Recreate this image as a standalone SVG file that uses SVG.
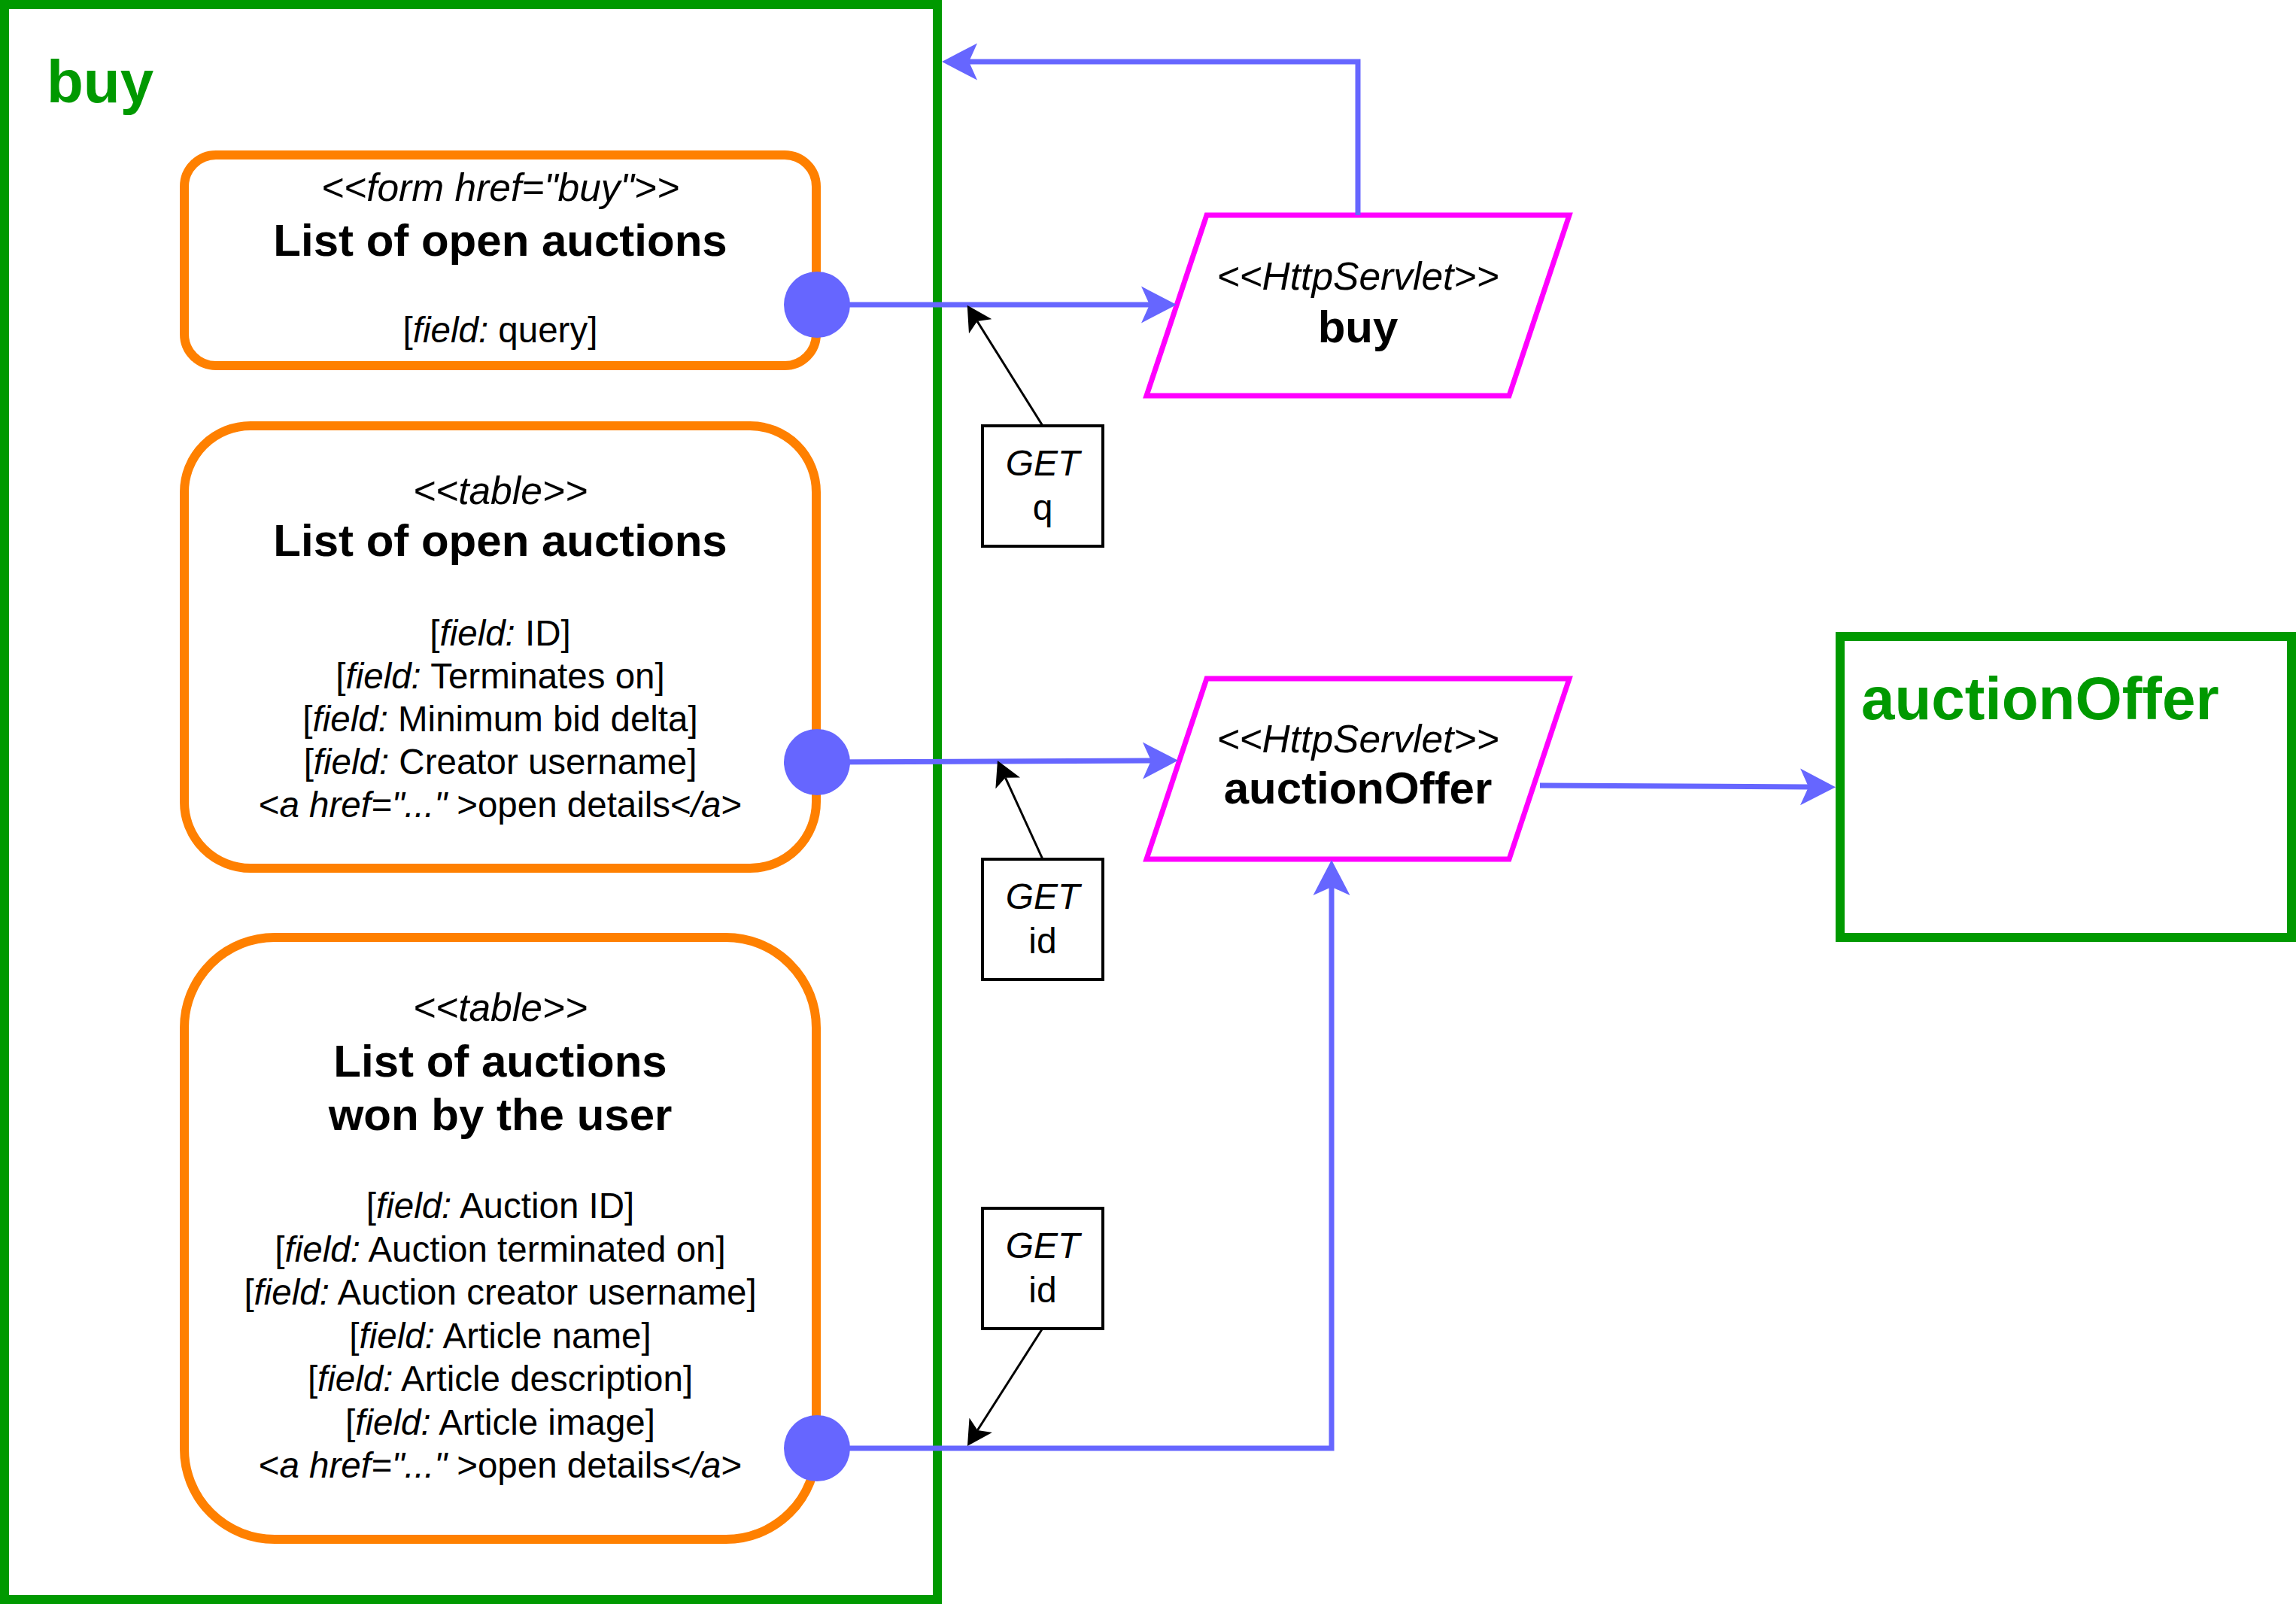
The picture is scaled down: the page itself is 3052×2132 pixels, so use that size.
<svg xmlns="http://www.w3.org/2000/svg" width="3052" height="2132" viewBox="0 0 3052 2132">
<style>
text{font-family:"Liberation Sans",Arial,Helvetica,sans-serif;fill:#000}
.frame{fill:none;stroke:#009900;stroke-width:12}
.box{fill:#fff;stroke:#FF8000;stroke-width:12}
.servlet{fill:#fff;stroke:#FF00FF;stroke-width:7}
.get{fill:#fff;stroke:#000;stroke-width:4}
.blue{fill:none;stroke:#6666FF;stroke-width:7}
.black{fill:none;stroke:#000;stroke-width:3}
.st{font-size:51.5px;font-style:italic;text-anchor:middle}
.ttl{font-size:60px;font-weight:bold;text-anchor:middle}
.fld{font-size:47.5px;text-anchor:middle}
.i{font-style:italic}
.lbl{font-size:80px;font-weight:bold;fill:#009900}
.gt{font-size:48px;text-anchor:middle}
</style>
<defs>
<marker id="bArrow" markerUnits="userSpaceOnUse" viewBox="0 -25 47 50" markerWidth="47" markerHeight="50" refX="11" refY="0" orient="auto"><path d="M47,0 L0,-24.5 L11,0 L0,24.5 Z" fill="#6666FF"/></marker>
<marker id="kArrow" markerUnits="userSpaceOnUse" viewBox="0 -18 33 36" markerWidth="33" markerHeight="36" refX="8" refY="0" orient="auto"><path d="M33,0 L0,-18 L8,0 L0,18 Z" fill="#000"/></marker>
<marker id="dot" markerUnits="userSpaceOnUse" viewBox="-44 -44 88 88" markerWidth="88" markerHeight="88" refX="0" refY="0"><circle r="44" fill="#6666FF"/></marker>
</defs>
<rect width="3052" height="2132" fill="#fff"/>

<g id="buy-page">
<rect class="frame" x="6" y="6" width="1240" height="2120"/>
<text class="lbl" x="62" y="136">buy</text>
</g>

<g id="auctionOffer-page">
<rect class="frame" x="2446" y="846" width="600" height="400"/>
<text class="lbl" x="2474" y="956">auctionOffer</text>
</g>

<g id="form-open-auctions">
<rect class="box" x="245" y="206" width="840" height="280" rx="42" ry="42"/>
<text class="st" x="665" y="267">&lt;&lt;form href="buy"&gt;&gt;</text>
<text class="ttl" x="665" y="340">List of open auctions</text>
<text class="fld" x="665" y="455">[<tspan class="i">field:</tspan> query]</text>
</g>

<g id="table-open-auctions">
<rect class="box" x="245" y="566" width="840" height="588" rx="88" ry="88"/>
<text class="st" x="665" y="670">&lt;&lt;table&gt;&gt;</text>
<text class="ttl" x="665" y="739">List of open auctions</text>
<text class="fld" x="665" y="858">[<tspan class="i">field:</tspan> ID]</text>
<text class="fld" x="665" y="915">[<tspan class="i">field:</tspan> Terminates on]</text>
<text class="fld" x="665" y="972">[<tspan class="i">field:</tspan> Minimum bid delta]</text>
<text class="fld" x="665" y="1029">[<tspan class="i">field:</tspan> Creator username]</text>
<text class="fld" x="665" y="1086">&lt;<tspan class="i">a href="..."</tspan> &gt;open details&lt;<tspan class="i">/a</tspan>&gt;</text>
</g>

<g id="table-won-auctions">
<rect class="box" x="245" y="1246" width="840" height="800" rx="120" ry="120"/>
<text class="st" x="665" y="1357">&lt;&lt;table&gt;&gt;</text>
<text class="ttl" x="665" y="1431">List of auctions</text>
<text class="ttl" x="665" y="1502">won by the user</text>
<text class="fld" x="665" y="1619">[<tspan class="i">field:</tspan> Auction ID]</text>
<text class="fld" x="665" y="1676.5">[<tspan class="i">field:</tspan> Auction terminated on]</text>
<text class="fld" x="665" y="1734">[<tspan class="i">field:</tspan> Auction creator username]</text>
<text class="fld" x="665" y="1791.5">[<tspan class="i">field:</tspan> Article name]</text>
<text class="fld" x="665" y="1849">[<tspan class="i">field:</tspan> Article description]</text>
<text class="fld" x="665" y="1906.5">[<tspan class="i">field:</tspan> Article image]</text>
<text class="fld" x="665" y="1964">&lt;<tspan class="i">a href="..."</tspan> &gt;open details&lt;<tspan class="i">/a</tspan>&gt;</text>
</g>

<g id="servlet-buy">
<polygon class="servlet" points="1604,286 2086,286 2006,526 1524,526"/>
<text class="st" x="1805" y="385">&lt;&lt;HttpServlet&gt;&gt;</text>
<text class="ttl" x="1805" y="455">buy</text>
</g>

<g id="servlet-auctionOffer">
<polygon class="servlet" points="1604,902 2086,902 2006,1142 1524,1142"/>
<text class="st" x="1805" y="1000">&lt;&lt;HttpServlet&gt;&gt;</text>
<text class="ttl" x="1805" y="1068">auctionOffer</text>
</g>

<g id="param-get-q">
<rect class="get" x="1306" y="566" width="160" height="160"/>
<text class="gt" x="1386" y="632"><tspan class="i">GET</tspan></text>
<text class="gt" x="1386" y="691">q</text>
</g>

<g id="param-get-id-1">
<rect class="get" x="1306" y="1142" width="160" height="160"/>
<text class="gt" x="1386" y="1208"><tspan class="i">GET</tspan></text>
<text class="gt" x="1386" y="1267">id</text>
</g>

<g id="param-get-id-2">
<rect class="get" x="1306" y="1606" width="160" height="160"/>
<text class="gt" x="1386" y="1672"><tspan class="i">GET</tspan></text>
<text class="gt" x="1386" y="1731">id</text>
</g>

<g id="connectors">
<path class="blue" d="M1086,405 L1528,405" marker-start="url(#dot)" marker-end="url(#bArrow)"/>
<path class="blue" d="M1086,1013 L1530,1011" marker-start="url(#dot)" marker-end="url(#bArrow)"/>
<path class="blue" d="M1086,1925 L1770,1925 L1770,1179" marker-start="url(#dot)" marker-end="url(#bArrow)"/>
<path class="blue" d="M1805,286 L1805,82 L1288,82" marker-end="url(#bArrow)"/>
<path class="blue" d="M2047,1044 L2404,1046" marker-end="url(#bArrow)"/>
<path class="black" d="M1386,566 L1299,427" marker-end="url(#kArrow)"/>
<path class="black" d="M1386,1142 L1336.4,1033.7" marker-end="url(#kArrow)"/>
<path class="black" d="M1385,1767 L1299.4,1901" marker-end="url(#kArrow)"/>
</g>
</svg>
